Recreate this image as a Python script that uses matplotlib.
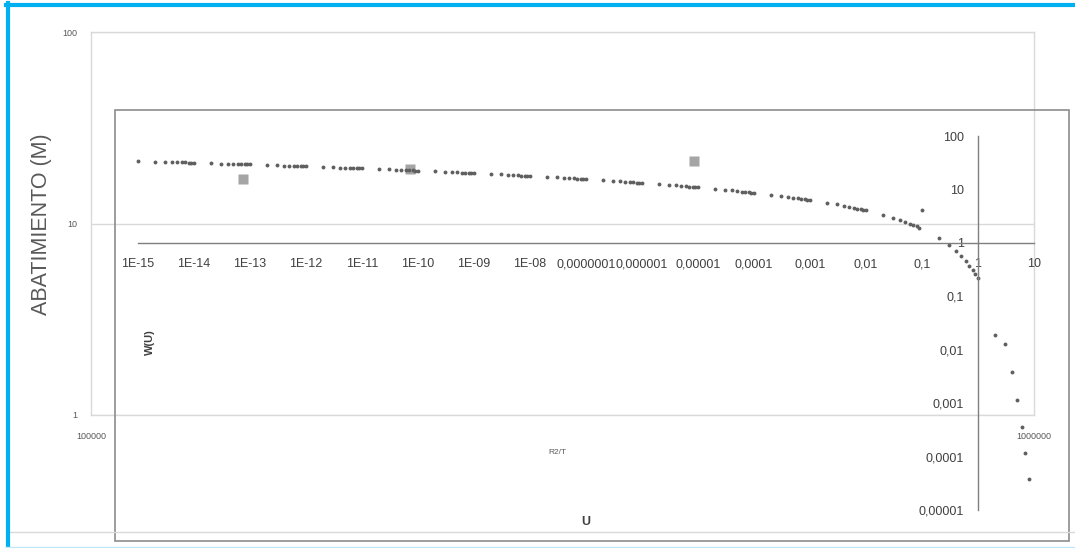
import matplotlib
matplotlib.use("Agg")
import matplotlib.pyplot as plt
from matplotlib.patches import Rectangle
from matplotlib.lines import Line2D
import numpy as np

plt.rcParams['font.family'] = ['Liberation Sans', 'DejaVu Sans']

W, H = 1075, 548

# field data: R2/T vs abatimiento (m)
r2t = [1.45e5, 2.18e5, 4.36e5]
abatimiento = [17.1, 19.3, 21.2]

# type curve W(u) table, u = mantissa * 10^exp
mantissas = [1, 2, 3, 4, 5, 6, 7, 8, 9]
exponents = [-15, -14, -13, -12, -11, -10, -9, -8, -7, -6, -5, -4, -3, -2, -1]
w_table = [
    [33.96, 33.27, 32.86, 32.58, 32.35, 32.17, 32.02, 31.88, 31.76],
    [31.66, 30.97, 30.56, 30.27, 30.05, 29.87, 29.71, 29.58, 29.46],
    [29.36, 28.66, 28.26, 27.97, 27.75, 27.56, 27.41, 27.28, 27.16],
    [27.05, 26.36, 25.96, 25.67, 25.44, 25.26, 25.11, 24.97, 24.86],
    [24.75, 24.06, 23.65, 23.36, 23.14, 22.96, 22.81, 22.67, 22.55],
    [22.45, 21.76, 21.35, 21.06, 20.84, 20.66, 20.50, 20.37, 20.25],
    [20.15, 19.45, 19.05, 18.76, 18.54, 18.35, 18.20, 18.07, 17.95],
    [17.84, 17.15, 16.74, 16.46, 16.23, 16.05, 15.90, 15.76, 15.65],
    [15.54, 14.85, 14.44, 14.15, 13.93, 13.75, 13.60, 13.46, 13.34],
    [13.24, 12.55, 12.14, 11.85, 11.63, 11.45, 11.29, 11.16, 11.04],
    [10.94, 10.24, 9.84, 9.55, 9.33, 9.14, 8.99, 8.86, 8.74],
    [8.633, 7.940, 7.535, 7.247, 7.024, 6.842, 6.688, 6.555, 6.437],
    [6.332, 5.639, 5.235, 4.948, 4.726, 4.545, 4.392, 4.259, 4.142],
    [4.038, 3.355, 2.959, 2.681, 2.468, 2.295, 2.151, 2.027, 1.919],
    [4.038, 1.223, 0.906, 0.702, 0.560, 0.454, 0.374, 0.311, 0.260],
]
u_tail = [1, 2, 3, 4, 5, 6, 7, 8]
w_tail = [0.2194, 0.019, 0.01305, 0.00378, 0.00115, 0.00036, 0.000116, 0.0000377]

x_ticks = [1e-15, 1e-14, 1e-13, 1e-12, 1e-11, 1e-10, 1e-9, 1e-8, 1e-7, 1e-6,
           1e-5, 1e-4, 1e-3, 1e-2, 1e-1, 1, 10]
x_labels = ["1E-15", "1E-14", "1E-13", "1E-12", "1E-11", "1E-10", "1E-09", "1E-08",
            "0,0000001", "0,000001", "0,00001", "0,0001", "0,001", "0,01", "0,1", "1", "10"]
y_ticks = [1e-5, 1e-4, 1e-3, 1e-2, 1e-1, 1, 10, 100]
y_labels = ["0,00001", "0,0001", "0,001", "0,01", "0,1", "1", "10", "100"]

u_vals = []
w_vals = []
for e, row in zip(exponents, w_table):
    for m, w in zip(mantissas, row):
        u_vals.append(m * 10.0 ** e)
        w_vals.append(w)
u_vals += u_tail
w_vals += w_tail


def box(x0, y0, x1, y1):
    return [x0 / W, 1 - y1 / H, (x1 - x0) / W, (y1 - y0) / H]


fig = plt.figure(figsize=(W / 100, H / 100), dpi=100)

############ chart 1 (R2/T) ############
ax1 = fig.add_axes(box(91, 32, 1034, 415))
ax1.set_xscale('log')
ax1.set_yscale('log')
ax1.set_xlim(1e5, 1e6)
ax1.set_ylim(1, 100)
for s in ax1.spines.values():
    s.set_color('#D9D9D9')
    s.set_linewidth(1)
ax1.set_yticks([1, 10, 100], ["1", "10", "100"])
ax1.set_xticks([1e5, 1e6], ["100000", "1000000"])
ax1.minorticks_off()
ax1.tick_params(axis='y', length=0, pad=10, labelsize=6.5, labelcolor='#595959')
ax1.tick_params(axis='x', length=0, pad=12, labelsize=6.5, labelcolor='#595959')
ax1.yaxis.grid(True, color='#D9D9D9', linewidth=1)
ax1.plot(r2t, abatimiento, 's', ms=6.5, color='#A5A5A5', mec='none')

fig.text(42 / W, 1 - 224 / H, "ABATIMIENTO (M)", rotation=90, ha='center', va='center',
         fontsize=15.5, color='#595959')
fig.text(557 / W, 1 - 452 / H, "R2/T", ha='center', va='center', fontsize=6, color='#595959')

############ chart 2 (W(u) vs u) ############
ax2 = fig.add_axes(box(138, 136, 1034, 510))
ax2.patch.set_alpha(0)
ax2.set_xscale('log')
ax2.set_yscale('log')
ax2.set_xlim(1e-15, 10)
ax2.set_ylim(1e-5, 100)
ax2.spines['top'].set_visible(False)
ax2.spines['right'].set_visible(False)
ax2.spines['left'].set_position(('data', 1))
ax2.spines['bottom'].set_position(('data', 1))
for s in ['left', 'bottom']:
    ax2.spines[s].set_color('#7F7F7F')
    ax2.spines[s].set_linewidth(1)
ax2.set_xticks(x_ticks, x_labels)
ax2.set_yticks(y_ticks, y_labels)
ax2.minorticks_off()
ax2.tick_params(axis='x', length=0, pad=11, labelsize=9, labelcolor='#404040')
ax2.tick_params(axis='y', length=0, pad=10, labelsize=9, labelcolor='#404040')
ax2.plot(u_vals, w_vals, 'o', ms=2.8, color='#5F5F5F', mec='none', clip_on=False)

fig.text(150 / W, 1 - 342 / H, "W(U)", rotation=90, ha='center', va='center',
         fontsize=8, fontweight='bold', color='#404040')
fig.text(586 / W, 1 - 522 / H, "U", ha='center', va='center',
         fontsize=9, fontweight='bold', color='#404040')

# chart frames and selection border
fig.patches.append(Rectangle((115 / W, 1 - 541 / H), (1069 - 115) / W, (541 - 110) / H,
                             transform=fig.transFigure, fill=False,
                             edgecolor='#8C8C8C', linewidth=1.2))
fig.lines.append(Line2D([10 / W, 1], [1 - 532 / H, 1 - 532 / H],
                        transform=fig.transFigure, color='#D9D9D9', linewidth=1))
fig.lines.append(Line2D([7.5 / W, 7.5 / W], [0, 1 - 3 / H],
                        transform=fig.transFigure, color='#00B0F0', linewidth=3))
fig.lines.append(Line2D([6 / W, 1], [1 - 5 / H, 1 - 5 / H],
                        transform=fig.transFigure, color='#00B0F0', linewidth=3))
fig.lines.append(Line2D([6 / W, 1], [1 - 547 / H, 1 - 547 / H],
                        transform=fig.transFigure, color='#BFE9F9', linewidth=1))

plt.savefig("out.png", dpi=100, facecolor='w')
